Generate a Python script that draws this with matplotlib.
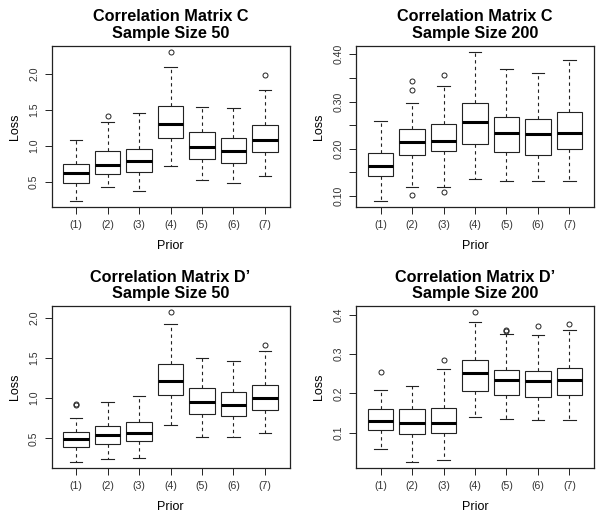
import numpy as np
import matplotlib
matplotlib.use("Agg")
import matplotlib.pyplot as plt
from matplotlib.ticker import FixedLocator

plt.rcParams['font.family'] = ['Liberation Sans', 'DejaVu Sans']

priors = ['(1)', '(2)', '(3)', '(4)', '(5)', '(6)', '(7)']

# Correlation matrix C, n = 50
c50_lo = [0.233, 0.436, 0.380, 0.725, 0.523, 0.490, 0.578]
c50_q1 = [0.486, 0.615, 0.643, 1.107, 0.813, 0.762, 0.910]
c50_med = [0.624, 0.730, 0.785, 1.305, 0.988, 0.928, 1.080]
c50_q3 = [0.753, 0.923, 0.960, 1.558, 1.186, 1.107, 1.296]
c50_hi = [1.075, 1.337, 1.453, 2.097, 1.545, 1.526, 1.775]
c50_out = [[], [1.42], [], [2.30], [], [], [1.98]]

# Correlation matrix C, n = 200
c200_lo = [0.089, 0.120, 0.120, 0.137, 0.133, 0.133, 0.132]
c200_q1 = [0.142, 0.188, 0.195, 0.211, 0.193, 0.188, 0.200]
c200_med = [0.164, 0.215, 0.217, 0.256, 0.233, 0.231, 0.233]
c200_q3 = [0.192, 0.241, 0.252, 0.298, 0.268, 0.264, 0.277]
c200_hi = [0.259, 0.298, 0.332, 0.405, 0.368, 0.360, 0.387]
c200_out = [[], [0.344, 0.324, 0.102], [0.356, 0.108], [], [], [], []]

# Correlation matrix D', n = 50
d50_lo = [0.205, 0.238, 0.251, 0.666, 0.512, 0.512, 0.566]
d50_q1 = [0.392, 0.429, 0.467, 1.044, 0.803, 0.778, 0.853]
d50_med = [0.488, 0.537, 0.571, 1.215, 0.953, 0.915, 1.000]
d50_q3 = [0.583, 0.650, 0.700, 1.430, 1.123, 1.082, 1.169]
d50_hi = [0.749, 0.953, 1.032, 1.921, 1.501, 1.468, 1.593]
d50_out = [[0.918, 0.928], [], [], [2.07], [], [], [1.663]]

# Correlation matrix D', n = 200
d200_lo = [0.059, 0.026, 0.032, 0.140, 0.135, 0.132, 0.132]
d200_q1 = [0.108, 0.097, 0.099, 0.207, 0.195, 0.190, 0.195]
d200_med = [0.131, 0.124, 0.126, 0.251, 0.234, 0.231, 0.233]
d200_q3 = [0.160, 0.161, 0.164, 0.284, 0.259, 0.256, 0.264]
d200_hi = [0.208, 0.219, 0.261, 0.381, 0.350, 0.349, 0.360]
d200_out = [[0.254], [], [0.285], [0.406], [0.362, 0.359], [0.370], [0.377]]

panels = [
    ("Correlation Matrix C\nSample Size 50",
     (c50_lo, c50_q1, c50_med, c50_q3, c50_hi, c50_out),
     [0.5, 1.0, 1.5, 2.0], [], '%.1f'),
    ("Correlation Matrix C\nSample Size 200",
     (c200_lo, c200_q1, c200_med, c200_q3, c200_hi, c200_out),
     [0.10, 0.20, 0.30, 0.40], [0.15, 0.25, 0.35], '%.2f'),
    ("Correlation Matrix D\u2019\nSample Size 50",
     (d50_lo, d50_q1, d50_med, d50_q3, d50_hi, d50_out),
     [0.5, 1.0, 1.5, 2.0], [], '%.1f'),
    ("Correlation Matrix D\u2019\nSample Size 200",
     (d200_lo, d200_q1, d200_med, d200_q3, d200_hi, d200_out),
     [0.1, 0.2, 0.3, 0.4], [], '%.1f'),
]

W, H = 603, 518
# axes boxes in pixels: left, top, right, bottom
boxes = [(51.5, 46, 289.5, 207.3), (356, 46, 594, 207.3),
         (51.5, 306.3, 289.5, 468), (356, 306.3, 594, 468)]

fig = plt.figure(figsize=(W / 100, H / 100), dpi=100)
ink = '#222222'

for (title, stats_in, yt, ymin, fmt), (l, t, r, b) in zip(panels, boxes):
    ax = fig.add_axes([l / W, 1 - b / H, (r - l) / W, (b - t) / H])
    lo, q1, med, q3, hi, out = stats_in
    stats = []
    for i in range(len(priors)):
        stats.append(dict(whislo=lo[i], q1=q1[i], med=med[i], q3=q3[i],
                          whishi=hi[i], fliers=out[i], label=priors[i]))
    ax.bxp(stats, positions=range(1, 8), widths=0.8, capwidths=0.4,
           showfliers=True, patch_artist=True,
           boxprops=dict(facecolor='white', edgecolor=ink, linewidth=0.8),
           medianprops=dict(color='black', linewidth=2.2, solid_capstyle='butt'),
           whiskerprops=dict(color=ink, linewidth=0.8, linestyle=(0, (3, 3))),
           capprops=dict(color=ink, linewidth=0.8),
           flierprops=dict(marker='o', markersize=3.6, markerfacecolor='none',
                           markeredgecolor=ink, markeredgewidth=0.7))

    allv = lo + hi + [v for o in out for v in o]
    span = max(allv) - min(allv)
    ax.set_ylim(min(allv) - 0.04 * span, max(allv) + 0.04 * span)
    ax.set_xlim(0.22, 7.78)

    ax.set_yticks(yt)
    ax.set_yticklabels([fmt % v for v in yt])
    if ymin:
        ax.yaxis.set_minor_locator(FixedLocator(ymin))
    ax.tick_params(axis='y', which='both', length=5, width=0.7, color=ink,
                   labelsize=7.6, labelrotation=90, pad=4, labelcolor='#333333')
    for lab in ax.get_yticklabels():
        lab.set_va('center')
    ax.tick_params(axis='x', length=5, width=0.7, color=ink, labelsize=7.6,
                   pad=4.5, labelcolor='#333333')

    for s in ax.spines.values():
        s.set_color(ink)
        s.set_linewidth(0.9)

    ax.set_title(title, fontsize=11.7, fontweight='bold', linespacing=1.1, pad=6)
    ax.set_xlabel('Prior', fontsize=9, labelpad=7)
    ax.set_ylabel('Loss', fontsize=9, labelpad=6)

fig.savefig('out.png', dpi=100)
